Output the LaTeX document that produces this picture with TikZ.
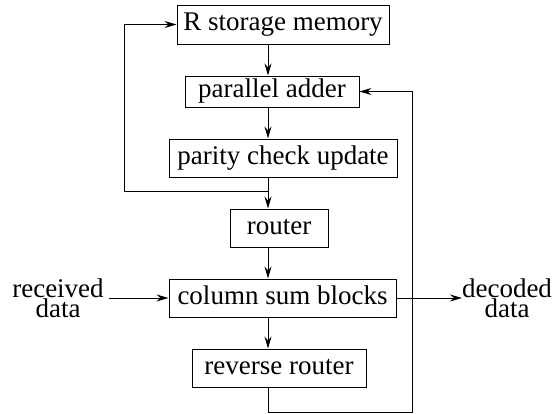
\documentclass[tikz,border=0pt]{standalone}
\usepackage{fontspec}
\setmainfont{Liberation Serif}
\usetikzlibrary{arrows.meta}
\begin{document}
\begin{tikzpicture}[x=1pt,y=-1pt,
  font=\fontsize{27}{20}\selectfont,
  box/.style={draw, line width=1pt, inner sep=0pt, text height=18pt, text depth=6pt},
  lbl/.style={inner sep=0pt, align=center},
  conn/.style={line width=1pt},
  arr/.style={conn, -{Stealth[length=12pt,width=7pt,inset=4pt]}}]
\useasboundingbox (0,0) rectangle (555,413);
\node[box, minimum width=212pt, minimum height=39pt] (rs) at (283,24.5) {R storage memory};
\node[box, minimum width=174pt, minimum height=31pt] (pa) at (272,91.5) {parallel adder};
\node[box, minimum width=228pt, minimum height=38pt] (pc) at (283,158) {parity check update};
\node[box, minimum width=98pt, minimum height=38pt] (ro) at (279,228) {router};
\node[box, minimum width=227pt, minimum height=38pt] (cs) at (282.5,298) {column sum blocks};
\node[box, minimum width=174pt, minimum height=38pt] (rr) at (279,368) {reverse router};
\node[lbl] (rc) at (58,298.5) {received\\data};
\node[lbl] (dc) at (507,298.5) {decoded\\data};
\coordinate (mx) at (268,0);
\coordinate (lx) at (124,0);
\coordinate (rx) at (412,0);
\coordinate (jn) at (268,191);
\coordinate (bt) at (268,412);
\coordinate (rcs) at (109,298);
\coordinate (dce) at (462,298);
\draw[arr] (rs.south -| mx) -- (pa.north -| mx);
\draw[arr] (pa.south -| mx) -- (pc.north -| mx);
\draw[arr] (pc.south -| mx) -- (ro.north -| mx);
\draw[arr] (jn) -- (jn -| lx) -- (rs.west -| lx) -- (rs.west);
\draw[arr] (ro.south -| mx) -- (cs.north -| mx);
\draw[arr] (cs.south -| mx) -- (rr.north -| mx);
\draw[arr] (rr.south -| mx) -- (bt) -- (bt -| rx) -- (pa.east -| rx) -- (pa.east);
\draw[arr] (rcs) -- (cs.west);
\draw[arr] (cs.east) -- (dce);
\end{tikzpicture}
\end{document}
